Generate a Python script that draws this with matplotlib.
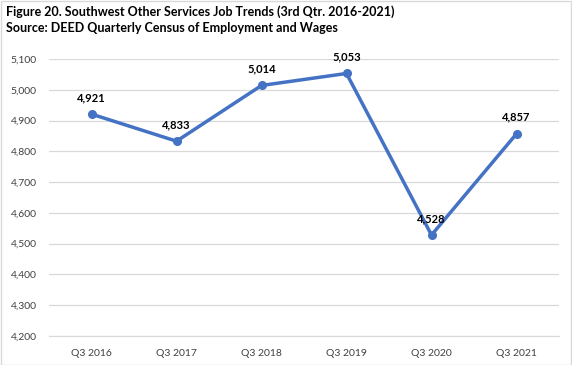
import matplotlib.pyplot as plt
from matplotlib.patches import Rectangle

categories = ["Q3 2016", "Q3 2017", "Q3 2018", "Q3 2019", "Q3 2020", "Q3 2021"]
values = [4921, 4833, 5014, 5053, 4528, 4857]
yticks = [4200, 4300, 4400, 4500, 4600, 4700, 4800, 4900, 5000, 5100]

plt.rcParams['font.family'] = ['Lato', 'DejaVu Sans']
W, H = 572, 365
fig = plt.figure(figsize=(W/100, H/100), dpi=100)
ax = fig.add_axes([49/W, 1-336/H, (559-49)/W, (336-59)/H])

x = list(range(len(categories)))
ax.plot(x, values, color='#4472C4', linewidth=2.5, marker='o', markersize=5.5, zorder=3)
for xi, v in zip(x, values):
    ax.annotate(f"{v:,}", (xi, v), xytext=(0, 8), textcoords='offset points',
                ha='center', va='bottom', fontsize=8, fontweight='bold', color='black')

ax.set_xlim(-0.5, len(categories)-0.5)
ax.set_ylim(4200, 5100)
ax.set_yticks(yticks)
ax.set_yticklabels([f"{t:,}" for t in yticks], fontsize=7.5, color='#404040')
ax.set_xticks(x)
ax.set_xticklabels(categories, fontsize=7.5, color='#404040')
ax.tick_params(length=0, pad=9)
ax.tick_params(axis='x', pad=9)
ax.grid(axis='y', color='#D9D9D9', linewidth=0.9)
ax.set_axisbelow(True)
for s in ax.spines.values():
    s.set_visible(False)
ax.spines['bottom'].set_visible(True)
ax.spines['bottom'].set_color('#D9D9D9')

fig.text(6/W, 1-12/H, "Figure 20. Southwest Other Services Job Trends (3rd Qtr. 2016-2021)",
         fontsize=9, fontweight='bold', va='center', ha='left')
fig.text(6/W, 1-28/H, "Source: DEED Quarterly Census of Employment and Wages",
         fontsize=9, fontweight='bold', va='center', ha='left')

fig.patches.append(Rectangle((0.5/W, 0.5/H), (W-1.5)/W, (H-1.5)/H, transform=fig.transFigure,
                             fill=False, edgecolor='#D9D9D9', linewidth=1))
fig.savefig("out.png", dpi=100)
